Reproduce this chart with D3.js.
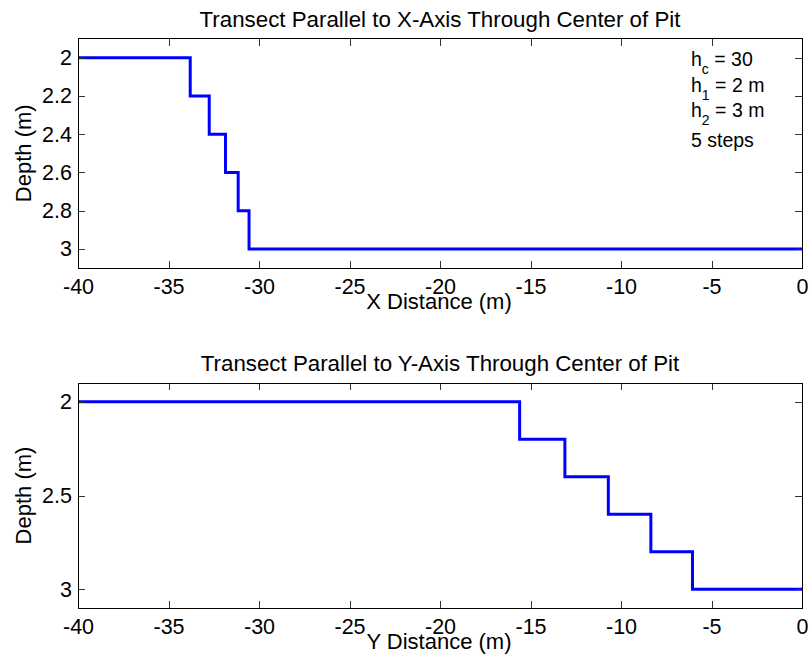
<!DOCTYPE html>
<html>
<head>
<meta charset="utf-8">
<script src="https://cdn.jsdelivr.net/npm/d3@7"></script>
<style>
  html, body { margin: 0; padding: 0; background: #fff; }
  svg { display: block; font-family: "Liberation Sans", Arial, Helvetica, sans-serif; }
</style>
</head>
<body>
<svg id="fig" width="810" height="656"></svg>
<script>
// Depth levels visited by the stepped pit wall (m)
const depthLevels = [2.0, 2.2, 2.4, 2.6, 2.8, 3.0];
// Distances where the depth drops to the next level (m)
const xStepEdges = [-33.8, -32.75, -31.85, -31.15, -30.55];
const yStepEdges = [-15.6, -13.1, -10.7, -8.35, -6.05];
// Transect extent (m)
const distanceRange = [-40, 0];
// Tick values
const distanceTicks = [-40, -35, -30, -25, -20, -15, -10, -5, 0];
const topDepthTicks = [2, 2.2, 2.4, 2.6, 2.8, 3];
const bottomDepthTicks = [2, 2.5, 3];
// Annotation lines: [main, subscript, rest]
const noteLines = [["h", "c", " = 30"], ["h", "1", " = 2 m"], ["h", "2", " = 3 m"], ["5 steps", "", ""]];

const panels = [
  { title: "Transect Parallel to X-Axis Through Center of Pit", xLabel: "X Distance (m)",
    edges: xStepEdges, ticks: topDepthTicks, top: 38.5, bottom: 268, note: true },
  { title: "Transect Parallel to Y-Axis Through Center of Pit", xLabel: "Y Distance (m)",
    edges: yStepEdges, ticks: bottomDepthTicks, top: 383, bottom: 608, note: false }
];

const svg = d3.select("#fig");
const left = 78, right = 802;
const tickLen = 7;
// plain hyphen-minus for negative tick labels
const fmt = d => String(+d.toFixed(2));

function profile(edges) {
  const pts = [{ x: distanceRange[0], d: depthLevels[0] }];
  edges.forEach((e, i) => pts.push({ x: e, d: depthLevels[i + 1] }));
  pts.push({ x: distanceRange[1], d: depthLevels[depthLevels.length - 1] });
  return pts;
}

panels.forEach(p => {
  const g = svg.append("g");
  const x = d3.scaleLinear().domain(distanceRange).range([left, right]);
  const y = d3.scaleLinear().domain([1.9, 3.1]).range([p.top, p.bottom]);

  // clip for the data line
  const clipId = "clip" + Math.round(p.top);
  g.append("clipPath").attr("id", clipId).append("rect")
    .attr("x", left).attr("y", p.top).attr("width", right - left).attr("height", p.bottom - p.top);

  // depth profile
  const line = d3.line().x(d => x(d.x)).y(d => y(d.d)).curve(d3.curveStepAfter);
  g.append("path").datum(profile(p.edges))
    .attr("clip-path", `url(#${clipId})`)
    .attr("d", line).attr("fill", "none").attr("stroke", "#0000ff")
    .attr("stroke-width", 3).attr("stroke-linejoin", "miter");

  // axes: ticks pointing inward on all four sides
  const axB = g.append("g").attr("transform", `translate(0,${p.bottom})`)
    .call(d3.axisBottom(x).tickValues(distanceTicks).tickSize(-tickLen).tickPadding(11).tickFormat(fmt));
  const axT = g.append("g").attr("transform", `translate(0,${p.top})`)
    .call(d3.axisTop(x).tickValues(distanceTicks).tickSize(-tickLen).tickFormat(""));
  const axL = g.append("g").attr("transform", `translate(${left},0)`)
    .call(d3.axisLeft(y).tickValues(p.ticks).tickSize(-tickLen).tickPadding(6).tickFormat(fmt));
  const axR = g.append("g").attr("transform", `translate(${right},0)`)
    .call(d3.axisRight(y).tickValues(p.ticks).tickSize(-tickLen).tickFormat(""));
  [axB, axT, axL, axR].forEach(a => {
    a.select(".domain").remove();
    a.selectAll("line").attr("stroke", "#333").attr("shape-rendering", "crispEdges");
    a.selectAll("text").attr("fill", "#000").attr("font-size", 21.5)
      .attr("font-family", '"Liberation Sans", Arial, sans-serif');
  });

  // box
  g.append("rect").attr("x", left).attr("y", p.top)
    .attr("width", right - left).attr("height", p.bottom - p.top)
    .attr("fill", "none").attr("stroke", "#000").attr("stroke-width", 1)
    .attr("shape-rendering", "crispEdges");

  // titles and labels
  g.append("text").attr("x", (left + right) / 2).attr("y", p.top - 12)
    .attr("text-anchor", "middle").attr("font-size", 22.3).text(p.title);
  g.append("text").attr("x", (left + right) / 2 - 1).attr("y", p.bottom + 41)
    .attr("text-anchor", "middle").attr("font-size", 22).text(p.xLabel);
  g.append("text")
    .attr("transform", `translate(31,${(p.top + p.bottom) / 2}) rotate(-90)`)
    .attr("text-anchor", "middle").attr("font-size", 22).text("Depth (m)");

  if (p.note) {
    const baselines = [66, 91.5, 117, 147];
    noteLines.forEach((ln, i) => {
      const t = g.append("text").attr("x", 691).attr("y", baselines[i]).attr("font-size", 19.5);
      t.append("tspan").text(ln[0]);
      if (ln[1]) {
        t.append("tspan").attr("font-size", 14).attr("dy", 8).text(ln[1]);
        t.append("tspan").attr("dy", -8).text(ln[2]);
      }
    });
  }
});
</script>
</body>
</html>
